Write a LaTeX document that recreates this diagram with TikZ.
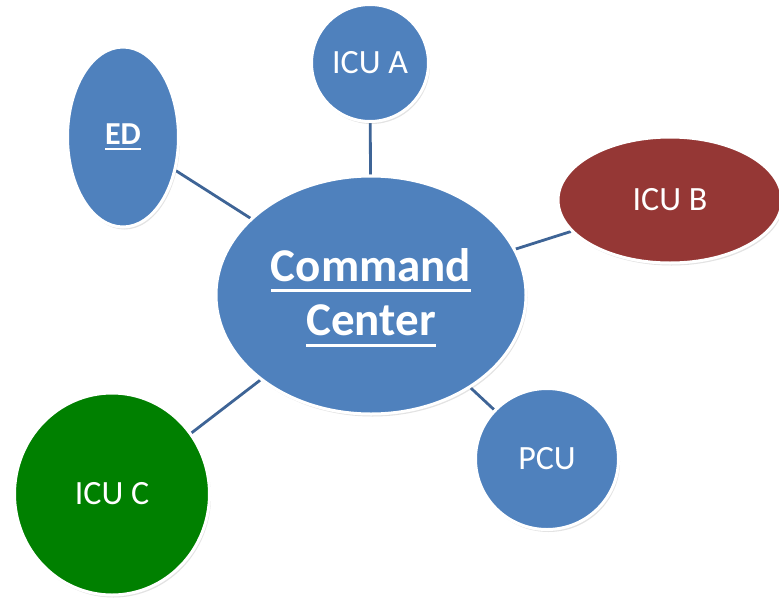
\documentclass[tikz,border=0pt]{standalone}
\usepackage{fontspec}
\setmainfont{Carlito}
\usetikzlibrary{shapes.geometric,shadows,backgrounds}
\definecolor{nodeblue}{RGB}{79,129,189}
\definecolor{nodered}{RGB}{149,55,53}
\definecolor{nodegreen}{RGB}{0,128,0}
\definecolor{linkblue}{RGB}{62,100,150}
\newcommand\myul[3]{\setbox0\hbox{#1}\rlap{\rule[-#2]{\wd0}{#3}}\box0}
\tikzset{
  bubble/.style={ellipse, inner sep=0pt, draw=white, line width=3pt, text=white,
    font=\fontsize{34}{40}\selectfont,
    drop shadow={opacity=0.22, shadow xshift=1.5pt, shadow yshift=-2.5pt}},
  link/.style={draw=linkblue, line width=2.8pt}
}
\begin{document}
\begin{tikzpicture}[x=1pt,y=-1pt]
\useasboundingbox (0,0) rectangle (779,600);
\clip (0,0) rectangle (779,600);
\node[bubble, fill=nodeblue, minimum width=310pt, minimum height=238pt] (cc) at (371,295) {};
\node[text=white, font=\fontsize{47}{50}\selectfont\bfseries, align=center, inner sep=0pt]
  (cctext) at (371,298)
  {\myul{Command}{10pt}{2.6pt}\\[4pt]\myul{Center}{11pt}{2.6pt}};
\node[bubble, fill=nodeblue, minimum width=111pt, minimum height=180pt,
  font=\fontsize{32}{36}\selectfont\bfseries] (ed) at (123,137) {\myul{ED}{6pt}{2.2pt}};
\node[bubble, fill=nodeblue, minimum width=117pt, minimum height=117pt] (icua) at (370,63) {ICU A};
\node[bubble, fill=nodered, minimum width=224pt, minimum height=126pt] (icub) at (670,200) {ICU B};
\node[bubble, fill=nodeblue, minimum width=143pt, minimum height=141pt] (pcu) at (547,459) {PCU};
\node[bubble, fill=nodegreen, minimum width=195pt, minimum height=202pt] (icuc) at (112,494) {ICU C};
\begin{scope}[on background layer]
\draw[link] (ed) -- (cc);
\draw[link] (icua) -- (cc);
\draw[link] (icub) -- (cc);
\draw[link] (pcu) -- (cc);
\draw[link] (icuc) -- (cc);
\end{scope}
\end{tikzpicture}
\end{document}
